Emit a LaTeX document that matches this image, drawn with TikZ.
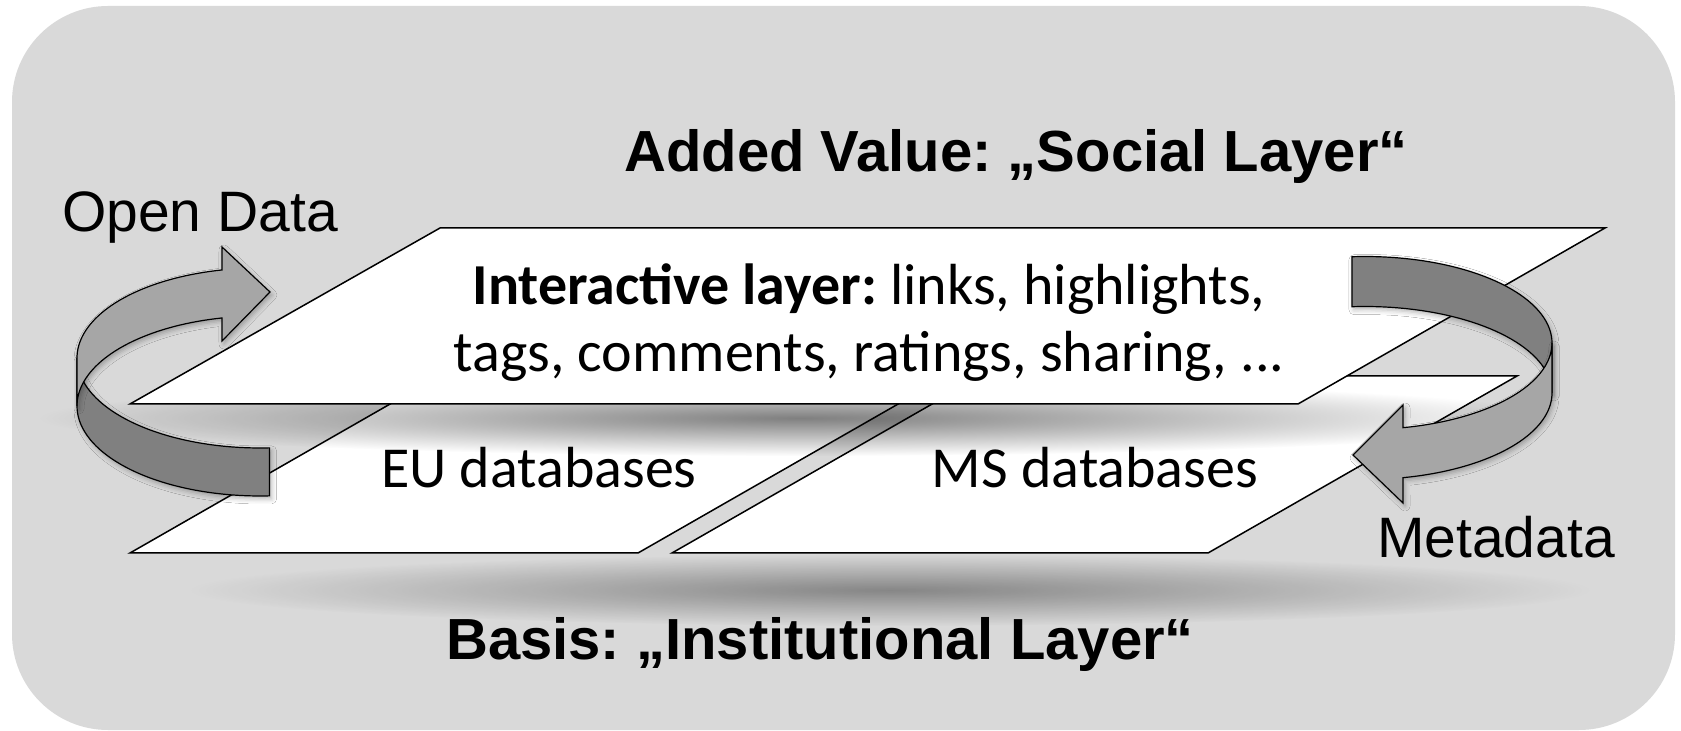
\documentclass[tikz,border=0pt]{standalone}
\usepackage{fontspec}
\setmainfont{Liberation Sans}
\newfontfamily\calibri{Carlito}
\usepackage{tikz}
\usetikzlibrary{fadings,shadows.blur}
\definecolor{bggray}{RGB}{217,217,217}
\definecolor{banddark}{RGB}{128,128,128}
\definecolor{bandlight}{RGB}{166,166,166}
\tikzfading[name=softshade, inner color=transparent!62, outer color=transparent!100]
\tikzfading[name=deepshade, inner color=transparent!50, outer color=transparent!100]
\frenchspacing

\begin{document}
\begin{tikzpicture}[x=0.5pt, y=-0.5pt,
    layer/.style={draw=black, fill=white, line width=0.75pt},
    ribbon/.style={draw=black, line width=0.6pt,
        blur shadow={shadow xshift=1pt, shadow yshift=-1.5pt, shadow blur radius=2.5pt, shadow opacity=30}},
    bandfront/.style={ribbon, fill=banddark},
    bandback/.style={ribbon, fill=bandlight},
    title/.style={font=\fontsize{29}{33}\selectfont\bfseries, anchor=base, inner sep=0pt},
    side/.style={font=\fontsize{28.5}{33}\selectfont, anchor=base, inner sep=0pt},
    layertext/.style={font=\calibri\fontsize{29}{33}\selectfont, anchor=base, inner sep=0pt}]

    \useasboundingbox (0,0) rectangle (1681,731);
    \fill[bggray, rounded corners=48pt] (12,6) rectangle (1675,730);

    % shadow under the institutional layer
    \fill[black, path fading=softshade] (890,590) ellipse [x radius=350pt, y radius=18pt];

    \coordinate (EUsw) at (130,553);
    \coordinate (EUse) at (638,553);
    \coordinate (EUne) at (947,376);
    \coordinate (EUnw) at (439,376);
    \coordinate (MSsw) at (672,553);
    \coordinate (MSse) at (1208,553);
    \coordinate (MSne) at (1517,376);
    \coordinate (MSnw) at (981,376);

    \draw[layer] (EUsw) -- (EUse) -- (EUne) -- (EUnw) -- cycle;
    \draw[layer] (MSsw) -- (MSse) -- (MSne) -- (MSnw) -- cycle;

    % shadow under the social layer
    \fill[black, path fading=deepshade] (800,418) ellipse [x radius=380pt, y radius=19pt];

    \coordinate (SLsw) at (130,404);
    \coordinate (SLse) at (1298,404);
    \coordinate (SLne) at (1605,228);
    \coordinate (SLnw) at (440,228);
    \draw[layer] (SLsw) -- (SLse) -- (SLne) -- (SLnw) -- cycle;

    \node[title] (social) at (1016,172) {Added Value: „Social Layer“};
    \node[title] (basis) at (820,660) {Basis: „Institutional Layer“};
    \node[side] (open) at (200,232) {Open Data};
    \node[side] (meta) at (1496,558) {Metadata};

    \node[layertext] (inter1) at (869,305) {\textbf{Interactive layer:} links, highlights,};
    \node[layertext] (inter2) at (869,372) {tags, comments, ratings, sharing, ...};
    \node[layertext] (eu) at (539,488) {EU databases};
    \node[layertext] (ms) at (1095,488) {MS databases};

    % Open Data arrow
    \draw[bandfront] plot[domain=180:87, samples=40] ({260+183*cos(\x)}, {358+90*sin(\x)})
        -- plot[domain=87:180, samples=40] ({260+183*cos(\x)}, {406+90*sin(\x)}) -- cycle;
    \draw[bandback] plot[domain=180:258, samples=40] ({260+183*cos(\x)}, {358+90*sin(\x)})
        -- (222,247) -- (270,292) -- (222,341)
        -- plot[domain=258:180, samples=40] ({260+183*cos(\x)}, {406+90*sin(\x)}) -- cycle;

    % Metadata arrow
    \draw[bandfront] plot[domain=266:360, samples=40] ({1365+187*cos(\x)}, {343+86.5*sin(\x)})
        -- plot[domain=360:266, samples=40] ({1365+187*cos(\x)}, {393+86.5*sin(\x)}) -- cycle;
    \draw[bandback] plot[domain=0:78.3, samples=40] ({1365+187*cos(\x)}, {343+86.5*sin(\x)})
        -- (1403,405) -- (1353,455) -- (1403,503)
        -- plot[domain=78.3:0, samples=40] ({1365+187*cos(\x)}, {393+86.5*sin(\x)}) -- cycle;
\end{tikzpicture}
\end{document}
